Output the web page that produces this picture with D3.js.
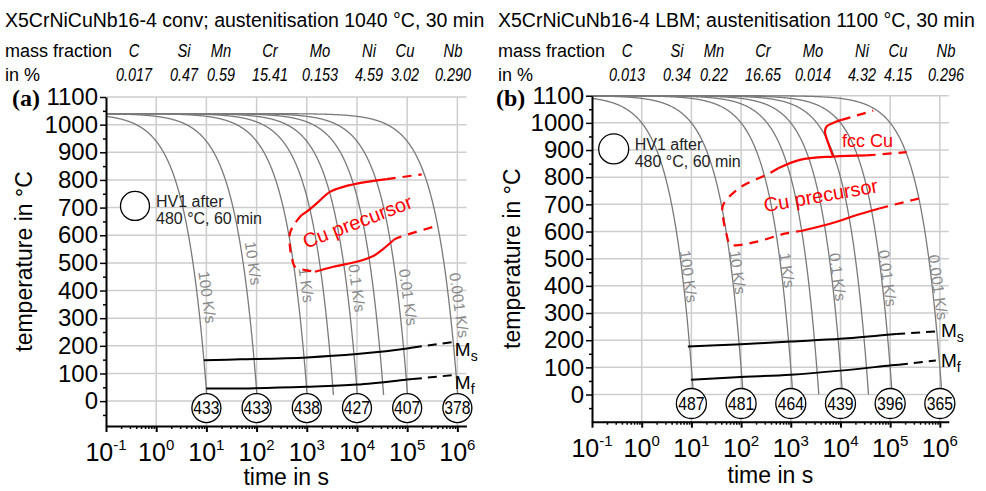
<!DOCTYPE html>
<html>
<head>
<meta charset="utf-8">
<script src="https://cdn.jsdelivr.net/npm/d3@7"></script>
<style>
  body { margin: 0; background: #fff; }
  svg text { font-family: "Liberation Sans", Arial, sans-serif; }
</style>
</head>
<body>
<div id="container"></div>
<script>
/** DATA */
const elements = ["C", "Si", "Mn", "Cr", "Mo", "Ni", "Cu", "Nb"];
const massConv = ["0.017", "0.47", "0.59", "15.41", "0.153", "4.59", "3.02", "0.290"];
const massLbm = ["0.013", "0.34", "0.22", "16.65", "0.014", "4.32", "4.15", "0.296"];

// cooling rates in K/s, the labelled ones end in a hardness circle
const coolingRates = [100, 10, 1, 0.3, 0.1, 0.03, 0.01, 0.001];
const labelledRates = [100, 10, 1, 0.1, 0.01, 0.001];
const rateLabels = ["100 K/s", "10 K/s", "1 K/s", "0.1 K/s", "0.01 K/s", "0.001 K/s"];
const rateLabelTempConv = [376, 499, 420, 409, 376, 347];
const rateLabelTempLbm = [435, 450, 458, 433, 428, 395];

// hardness HV1 after 480 °C, 60 min
const hardnessTimes = [1e1, 1e2, 1e3, 1e4, 1e5, 1e6];
const hardnessConv = [433, 433, 438, 427, 407, 378];
const hardnessLbm = [487, 481, 464, 439, 396, 365];

// martensite start / finish, [time in s, temperature in °C]
const msConv = [[8.9, 148], [47, 151], [1e3, 158], [1e4, 170], [1e5, 190], [1.3e5, 194]];
const msConvExt = [[1.3e5, 194], [8.2e5, 214]];
const mfConv = [[9.9, 46], [47, 46], [1e3, 52], [1e4, 60], [1e5, 78], [1.3e5, 80]];
const mfConvExt = [[1.3e5, 80], [8.2e5, 94]];
const msLbm = [[8.5, 177], [79, 184], [1e3, 195], [1e4, 205], [1e5, 221], [1.32e5, 223]];
const msLbmExt = [[1.32e5, 223], [8.3e5, 232]];
const mfLbm = [[9.8, 54], [79, 64], [1e3, 73], [1e4, 88], [1e5, 107], [1.5e5, 110]];
const mfLbmExt = [[1.5e5, 110], [8.3e5, 125]];

// Cu precursor field, conventional
const cuUpperConv = [[791, 673], [995, 685], [1574, 715], [2897, 757], [5333, 775], [15600, 793], [39080, 803]];
const cuUpperConvExt = [[39080, 803], [194500, 820]];
const cuLeftConv = [[791, 673], [582, 643], [462, 607], [462, 558], [500, 522], [582, 486], [920, 474], [1455, 468]];
const cuLowerConv = [[1455, 468], [3373, 486], [9863, 504], [21130, 525], [33000, 550], [53090, 582]];
const cuLowerConvExt = [[53090, 582], [61800, 589], [387300, 634]];

// Cu precursor and fcc Cu fields, LBM
const cuLeftLbm = [[561, 833], [327, 809], [95, 762], [43.3, 697], [43.3, 654], [50.4, 593], [60.3, 552], [79.4, 549], [199.5, 562], [800, 593], [1603, 602]];
const cuUpperLbm = [[561, 833], [1531, 864], [7178, 876], [33650, 880]];
const cuUpperLbmExt = [[33650, 880], [214800, 892]];
const cuLowerLbm = [[1603, 602], [8110, 635], [20510, 660], [60390, 685]];
const cuLowerLbmExt = [[60390, 685], [385500, 722]];
const fccLbm = [[7178, 876], [6152, 907], [4875, 969], [5272, 987], [8375, 1005], [10570, 1011]];
const fccLbmExt = [[10570, 1011], [45710, 1045]];

/** LAYOUT */
const width = 986, height = 491;
const compCols = [134, 184, 221, 270, 320, 369, 405, 453];
const grey = "#7a7a7a", red = "#ff0000";

const svg = d3.select("#container")
  .append("svg")
  .attr("width", width)
  .attr("height", height);

// constant-rate cooling path from the austenitisation temperature
function coolingPath(rate, T0, Tend) {
  const tEnd = (T0 - Tend) / rate;
  return d3.range(-1, Math.log10(tEnd), 0.01)
    .map(l => 10 ** l)
    .concat([tEnd])
    .map(t => [t, T0 - rate * t]);
}

function drawPanel(cfg) {
  const g = svg.append("g");
  const x = d3.scaleLog().domain([0.1, 10 ** 6.18]).range([cfg.left, cfg.right]);
  const y = d3.scaleLinear().domain([cfg.yMin, 1100]).range([cfg.bottom, cfg.top]);
  const line = d3.line().x(d => x(d[0])).y(d => y(d[1]));
  const smooth = d3.line().x(d => x(d[0])).y(d => y(d[1])).curve(d3.curveCatmullRom);

  // header
  g.append("text").attr("x", cfg.ox + 5).attr("y", 27)
    .attr("font-size", 19.5).text(cfg.title);
  g.append("text").attr("x", cfg.ox + 5).attr("y", 57)
    .attr("font-size", 18).text("mass fraction");
  g.append("text").attr("x", cfg.ox + 5).attr("y", 81)
    .attr("font-size", 18).text("in %");
  elements.forEach((el, i) => {
    g.append("text")
      .attr("transform", `translate(${cfg.ox + compCols[i]},57) scale(0.82,1)`)
      .attr("text-anchor", "middle").attr("font-size", 18)
      .attr("font-style", "italic").text(el);
    g.append("text")
      .attr("transform", `translate(${cfg.ox + compCols[i]},81) scale(0.8,1)`)
      .attr("text-anchor", "middle").attr("font-size", 18)
      .attr("font-style", "italic").text(cfg.mass[i]);
  });
  g.append("text").attr("x", cfg.panelX).attr("y", 106)
    .attr("font-weight", "bold").attr("font-size", 24)
    .style("font-family", "'Liberation Serif', serif")
    .text(cfg.panel);

  // grid
  g.append("g").selectAll("line")
    .data(d3.range(0, 1101, 100))
    .join("line")
    .attr("x1", cfg.left).attr("x2", cfg.right)
    .attr("y1", d => y(d)).attr("y2", d => y(d))
    .attr("stroke", "#cdcdcd").attr("stroke-width", 1.5);
  g.append("g").selectAll("line")
    .data([1, 10, 100, 1e3, 1e4, 1e5, 1e6])
    .join("line")
    .attr("x1", d => x(d)).attr("x2", d => x(d))
    .attr("y1", cfg.top).attr("y2", cfg.bottom)
    .attr("stroke", "#cdcdcd").attr("stroke-width", 1.5);

  // cooling curves
  g.append("g").selectAll("path")
    .data(coolingRates)
    .join("path")
    .attr("d", r => line(coolingPath(r, cfg.T0, cfg.Tend)))
    .attr("fill", "none").attr("stroke", grey).attr("stroke-width", 1.3);

  // rate labels
  labelledRates.forEach((r, i) => {
    const T = cfg.rateLabelTemp[i];
    const px = x((cfg.T0 - T) / r) + cfg.labelDx;
    g.append("text")
      .attr("transform", `translate(${px},${y(T)}) rotate(82)`)
      .attr("text-anchor", "middle").attr("dominant-baseline", "central")
      .attr("font-size", 15.5).attr("fill", "#8a8a8a")
      .text(rateLabels[i]);
  });

  // Ms / Mf
  [[cfg.ms, null], [cfg.msExt, "9,6"], [cfg.mf, null], [cfg.mfExt, "9,6"]].forEach(([d, dash]) => {
    g.append("path").attr("d", smooth(d))
      .attr("fill", "none").attr("stroke", "#000").attr("stroke-width", 2)
      .attr("stroke-dasharray", dash);
  });
  [["s", cfg.msLabel], ["f", cfg.mfLabel]].forEach(([sub, pos]) => {
    const t = g.append("text").attr("x", x(pos[0])).attr("y", y(pos[1]))
      .attr("font-size", 19);
    t.append("tspan").text("M");
    t.append("tspan").attr("dy", 5).attr("font-size", 14).text(sub);
  });

  // precipitation fields
  cfg.red.forEach(([d, dash]) => {
    g.append("path").attr("d", smooth(d))
      .attr("fill", "none").attr("stroke", red).attr("stroke-width", 2.2)
      .attr("stroke-dasharray", dash);
  });
  cfg.redText.forEach(([txt, pos, rot, anchor, size]) => {
    g.append("text")
      .attr("transform", `translate(${x(pos[0])},${y(pos[1])}) rotate(${rot})`)
      .attr("text-anchor", anchor).attr("font-size", size)
      .attr("fill", red).text(txt);
  });

  // axes
  g.append("g")
    .attr("transform", `translate(${cfg.left},0)`)
    .call(d3.axisLeft(y).tickValues(d3.range(-50, 1100, 100)).tickSize(3).tickFormat(""))
    .call(a => a.select(".domain").remove())
    .call(a => a.selectAll("line").attr("stroke-width", 1.5));
  g.append("g")
    .attr("transform", `translate(${cfg.left},0)`)
    .call(d3.axisLeft(y).tickValues(d3.range(0, 1101, 100)).tickFormat(d3.format("d"))
      .tickSize(6).tickSizeOuter(0).tickPadding(2))
    .call(a => a.select(".domain").attr("stroke-width", 2))
    .call(a => a.selectAll("line").attr("stroke-width", 1.5))
    .call(a => a.selectAll("text").attr("font-size", 24)
      .attr("font-family", "Liberation Sans, Arial, sans-serif").attr("fill", "#000"));

  const minor = [];
  for (let e = -1; e <= 6; e++) {
    for (let k = 2; k <= 9; k++) {
      const v = k * 10 ** e;
      if (v <= 10 ** 6.18) minor.push(v);
    }
  }
  g.append("g")
    .attr("transform", `translate(0,${cfg.bottom})`)
    .call(d3.axisBottom(x).tickValues(minor).tickSize(3).tickFormat(""))
    .call(a => a.select(".domain").remove())
    .call(a => a.selectAll("line").attr("stroke-width", 1.5));
  const decades = [0.1, 1, 10, 100, 1e3, 1e4, 1e5, 1e6];
  g.append("g")
    .attr("transform", `translate(0,${cfg.bottom})`)
    .call(d3.axisBottom(x).tickValues(decades).tickSize(6).tickSizeOuter(0).tickFormat(""))
    .call(a => a.select(".domain").attr("stroke-width", 2))
    .call(a => a.selectAll("line").attr("stroke-width", 2));
  decades.forEach(d => {
    const t = g.append("text").attr("x", x(d)).attr("y", cfg.bottom + 35)
      .attr("text-anchor", "middle").attr("font-size", 25);
    t.append("tspan").text("10");
    t.append("tspan").attr("dy", -11).attr("font-size", 15).text(Math.round(Math.log10(d)));
  });

  // axis titles
  g.append("text")
    .attr("transform", `translate(${cfg.ox + cfg.yTitleX},${(cfg.top + cfg.bottom) / 2}) rotate(-90)`)
    .attr("text-anchor", "middle").attr("font-size", 23)
    .text("temperature in °C");
  g.append("text")
    .attr("x", (cfg.left + cfg.right) / 2).attr("y", cfg.xTitleY)
    .attr("text-anchor", "middle").attr("font-size", 23)
    .text("time in s");

  // hardness circles
  const hc = g.append("g").selectAll("g")
    .data(hardnessTimes.map((t, i) => [t, cfg.hardness[i]]))
    .join("g")
    .attr("transform", d => `translate(${x(d[0])},${y(cfg.circleT)})`);
  hc.append("circle").attr("r", cfg.circleR)
    .attr("fill", "#fff").attr("stroke", "#000").attr("stroke-width", 1.3);
  hc.append("text").attr("text-anchor", "middle").attr("dy", "0.36em")
    .attr("transform", "scale(0.9,1)")
    .attr("font-size", 17.5).text(d => d[1]);

  // legend
  const lg = g.append("g")
    .attr("transform", `translate(${x(cfg.legend[0])},${y(cfg.legend[1])})`);
  lg.append("circle").attr("r", cfg.circleR)
    .attr("fill", "#fff").attr("stroke", "#000").attr("stroke-width", 1.3);
  lg.append("text").attr("x", 21).attr("y", 1).attr("font-size", 16)
    .attr("fill", "#222").text("HV1 after");
  lg.append("text").attr("x", 21).attr("y", 18).attr("font-size", 16)
    .attr("fill", "#222").text("480 °C, 60 min");
}

drawPanel({
  ox: 0, panel: "(a)", panelX: 12,
  title: "X5CrNiCuNb16-4 conv; austenitisation 1040 °C, 30 min",
  mass: massConv,
  left: 106, right: 466.4, top: 97, bottom: 426, yMin: -90,
  T0: 1040, Tend: 22, labelDx: 10, rateLabelTemp: rateLabelTempConv,
  ms: msConv, msExt: msConvExt, mf: mfConv, mfExt: mfConvExt,
  msLabel: [8.9e5, 163], mfLabel: [8.9e5, 43],
  hardness: hardnessConv, circleT: -25, circleR: 14.5,
  legend: [0.378, 706],
  yTitleX: 32, xTitleY: 485,
  red: [[cuUpperConv, null], [cuUpperConvExt, "9,7"], [cuLeftConv, "9,7"],
        [cuLowerConv, null], [cuLowerConvExt, "9,7"]],
  redText: [["Cu precursor", [11480, 626], -21, "middle", 20]]
});

drawPanel({
  ox: 493, panel: "(b)", panelX: 496,
  title: "X5CrNiCuNb16-4 LBM; austenitisation 1100 °C, 30 min",
  mass: massLbm,
  left: 592, right: 948.8, top: 95.7, bottom: 421.7, yMin: -100,
  T0: 1100, Tend: 0, labelDx: 6, rateLabelTemp: rateLabelTempLbm,
  ms: msLbm, msExt: msLbmExt, mf: mfLbm, mfExt: mfLbmExt,
  msLabel: [1.05e6, 213], mfLabel: [1.05e6, 100],
  hardness: hardnessLbm, circleT: -33, circleR: 15,
  legend: [0.273, 904],
  yTitleX: 27, xTitleY: 483,
  red: [[cuLeftLbm, "9,7"], [cuUpperLbm, null], [cuUpperLbmExt, "9,7"],
        [cuLowerLbm, null], [cuLowerLbmExt, "9,7"], [fccLbm, null], [fccLbmExt, "9,7"]],
  redText: [["Cu precursor", [4246, 708], -10, "middle", 20],
            ["fcc Cu", [10720, 913], 0, "start", 18]]
});
</script>
</body>
</html>
